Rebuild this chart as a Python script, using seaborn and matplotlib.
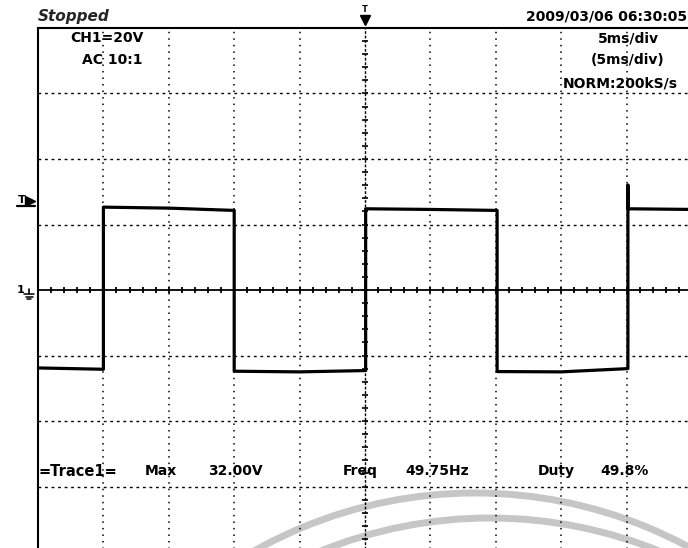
import numpy as np
import matplotlib
matplotlib.use("Agg")
import matplotlib.pyplot as plt
import seaborn as sns
from matplotlib.patches import Arc

# CH1 capture: time (ms from left screen edge) and voltage (V)
trace_t = [0.0, 5.0, 5.0, 10.0, 15.0, 15.0, 20.0, 25.05, 25.05, 30.0, 35.1, 35.1,
           40.0, 45.1, 45.1, 45.1, 50.0]
trace_v = [-23.8, -24.2, 25.3, 25.0, 24.3, -24.8, -25.0, -24.6, 24.8, 24.6, 24.3, -24.9,
           -25.0, -24.0, 32.0, 24.8, 24.6]

# screen settings
time_per_div = 5.0      # ms
volt_per_div = 20.0     # V
n_hdiv, n_vdiv = 10, 8

status_text = "Stopped"
timestamp = "2009/03/06 06:30:05"
channel_labels = ["CH1=20V", "AC 10:1"]
timebase_labels = ["5ms/div", "(5ms/div)", "NORM:200kS/s"]
measure_labels = ["=Trace1=", "Max", "32.00V", "Freq", "49.75Hz", "Duty", "49.8%"]

sns.set_style("white")
plt.rcParams["lines.scale_dashes"] = False
plt.rcParams["font.family"] = ["DejaVu Sans"]

W, H = 688, 548
fig = plt.figure(figsize=(W / 100, H / 100), dpi=100)
fig.patch.set_facecolor("white")

# pixel-space background layer (watermark rings)
bg = fig.add_axes([0, 0, 1, 1], zorder=0)
bg.set_xlim(0, W)
bg.set_ylim(H, 0)
bg.axis("off")
for (cx, cy, r) in [(475, 943, 450), (490, 968, 450)]:
    bg.add_patch(Arc((cx, cy), 2 * r, 2 * r, color="#c6c6c6", lw=5.0))

# graticule / waveform axes
ax = fig.add_axes([38 / W, -4 / H, 654 / W, 524 / H], zorder=1)
ax.patch.set_alpha(0)
xmax = n_hdiv * time_per_div
ymax = n_vdiv / 2 * volt_per_div
ax.set_xlim(0, xmax)
ax.set_ylim(-ymax, ymax)
ax.set_xticks([])
ax.set_yticks([])
for side in ["right", "bottom"]:
    ax.spines[side].set_visible(False)
for side in ["left", "top"]:
    ax.spines[side].set_linewidth(1.5)
    ax.spines[side].set_color("black")

xc = xmax / 2
vgrid = [k * time_per_div for k in range(1, n_hdiv) if k * time_per_div != xc]
hgrid = [k * volt_per_div for k in range(-n_vdiv // 2 + 1, n_vdiv // 2) if k != 0]
ax.vlines(vgrid, -ymax, ymax, colors="black", lw=1.1, linestyles=[(0, (1.1, 3.6))])
ax.hlines(hgrid, 0, xmax, colors="black", lw=1.0, linestyles=[(0, (2.0, 2.7))])

# centre cross with minor ticks (5 per division)
ax.axhline(0, color="black", lw=1.3)
ax.axvline(xc, color="black", lw=1.0, ls=(0, (2.0, 1.2)))
hticks = np.arange(0, xmax + 0.01, time_per_div / 5)
vticks = np.arange(-ymax, ymax + 0.01, volt_per_div / 5)
ax.plot(hticks, np.zeros_like(hticks), ls="none", marker="|", ms=4.5, mew=1.3, color="black")
ax.plot(np.full_like(vticks, xc), vticks, ls="none", marker="_", ms=4.5, mew=1.2, color="black")

sns.lineplot(x=trace_t, y=trace_v, ax=ax, color="black", lw=2.3, sort=False,
             estimator=None, legend=False, zorder=5)


def px(x, y):
    return x / W, 1 - y / H


bold = dict(fontweight="bold", color="black", va="center")

fig.text(*px(38, 16), status_text, fontsize=11, fontweight="bold", fontstyle="italic",
         va="center", ha="left")
fig.text(*px(526, 16), timestamp, fontsize=10, ha="left", **bold)

fig.text(*px(70, 38), channel_labels[0], fontsize=10, ha="left", **bold)
fig.text(*px(82, 60), channel_labels[1], fontsize=10, ha="left", **bold)

fig.text(*px(628, 38), timebase_labels[0], fontsize=10, ha="center", **bold)
fig.text(*px(628, 60), timebase_labels[1], fontsize=10, ha="center", **bold)
fig.text(*px(620, 83), timebase_labels[2], fontsize=10, ha="center", **bold)

meas_x = [38, 145, 208, 343, 405, 538, 600]
for x, s in zip(meas_x, measure_labels):
    fig.text(*px(x, 471), s, fontsize=10.5 if s.startswith("=") else 10, ha="left",
             fontweight="bold" if not s.startswith("=") else "semibold", color="black",
             va="center")

# trigger position marker (top) and level / ground markers (left)
fig.text(*px(365, 9), "T", fontsize=6, ha="center", **bold)
bg.plot([365], [20], marker="v", ms=7, color="black", clip_on=False)
fig.text(*px(22, 200), "T", fontsize=8, ha="center", **bold)
bg.plot([30], [201], marker=">", ms=7, color="black")
bg.plot([17, 35], [206, 206], color="black", lw=1.6)
fig.text(*px(21, 290), "1", fontsize=8, ha="center", **bold)
bg.plot([29, 29], [289, 294], color="black", lw=1.2)
for i, hw in enumerate([5, 3.5, 2]):
    bg.plot([29 - hw, 29 + hw], [294 + 2.6 * i, 294 + 2.6 * i], color="black", lw=1.1)

fig.savefig("out.png", dpi=100)
